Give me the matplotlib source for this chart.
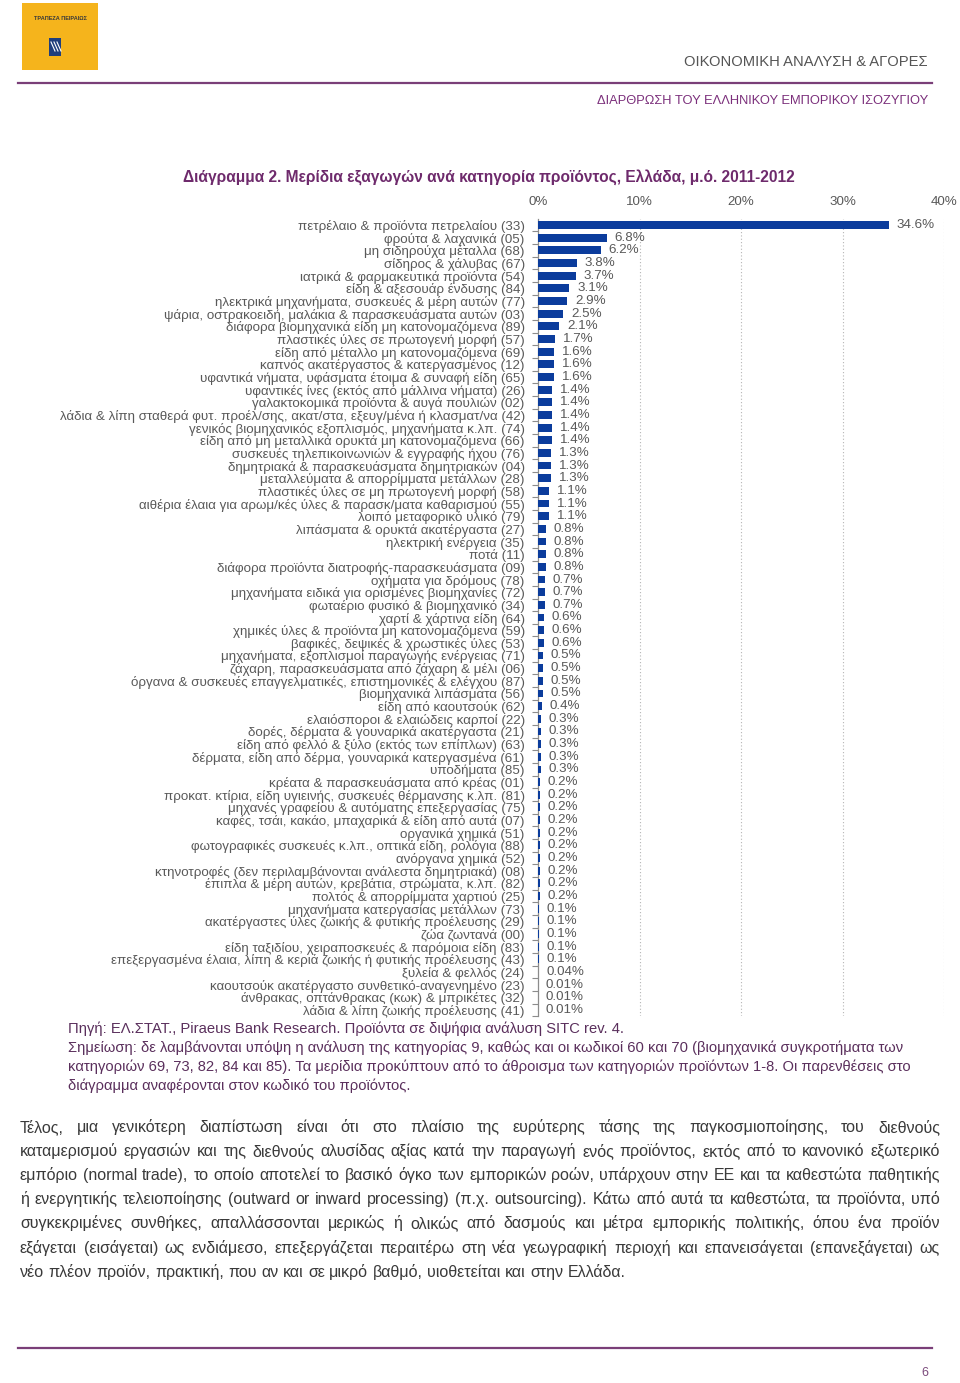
import matplotlib
matplotlib.use('Agg')
import matplotlib.pyplot as plt
from matplotlib import font_manager as fm
from matplotlib.patches import Rectangle
from matplotlib.lines import Line2D

# ---------------- data ----------------
categories = [
    "πετρέλαιο & προϊόντα πετρελαίου (33)",
    "φρούτα & λαχανικά (05)",
    "μη σιδηρούχα μέταλλα (68)",
    "σίδηρος & χάλυβας (67)",
    "ιατρικά & φαρμακευτικά προϊόντα (54)",
    "είδη & αξεσουάρ ένδυσης (84)",
    "ηλεκτρικά μηχανήματα, συσκευές & μέρη αυτών (77)",
    "ψάρια, οστρακοειδή, μαλάκια & παρασκευάσματα αυτών (03)",
    "διάφορα βιομηχανικά είδη μη κατονομαζόμενα (89)",
    "πλαστικές ύλες σε πρωτογενή μορφή (57)",
    "είδη από μέταλλο μη κατονομαζόμενα (69)",
    "καπνός ακατέργαστος & κατεργασμένος (12)",
    "υφαντικά νήματα, υφάσματα έτοιμα & συναφή είδη (65)",
    "υφαντικές ίνες (εκτός από μάλλινα νήματα) (26)",
    "γαλακτοκομικά προϊόντα & αυγά πουλιών (02)",
    "λάδια & λίπη σταθερά φυτ. προέλ/σης, ακατ/στα, εξευγ/μένα ή κλασματ/να (42)",
    "γενικός βιομηχανικός εξοπλισμός, μηχανήματα κ.λπ. (74)",
    "είδη από μη μεταλλικά ορυκτά μη κατονομαζόμενα (66)",
    "συσκευές τηλεπικοινωνιών & εγγραφής ήχου (76)",
    "δημητριακά & παρασκευάσματα δημητριακών (04)",
    "μεταλλεύματα & απορρίμματα μετάλλων (28)",
    "πλαστικές ύλες σε μη πρωτογενή μορφή (58)",
    "αιθέρια έλαια για αρωμ/κές ύλες & παρασκ/ματα καθαρισμού (55)",
    "λοιπό μεταφορικό υλικό (79)",
    "λιπάσματα & ορυκτά ακατέργαστα (27)",
    "ηλεκτρική ενέργεια (35)",
    "ποτά (11)",
    "διάφορα προϊόντα διατροφής-παρασκευάσματα (09)",
    "οχήματα για δρόμους (78)",
    "μηχανήματα ειδικά για ορισμένες βιομηχανίες (72)",
    "φωταέριο φυσικό & βιομηχανικό (34)",
    "χαρτί & χάρτινα είδη (64)",
    "χημικές ύλες & προϊόντα μη κατονομαζόμενα (59)",
    "βαφικές, δεψικές & χρωστικές ύλες (53)",
    "μηχανήματα, εξοπλισμοί παραγωγής ενέργειας (71)",
    "ζάχαρη, παρασκευάσματα από ζάχαρη & μέλι (06)",
    "όργανα & συσκευές επαγγελματικές, επιστημονικές & ελέγχου (87)",
    "βιομηχανικά λιπάσματα (56)",
    "είδη από καουτσούκ (62)",
    "ελαιόσποροι & ελαιώδεις καρποί (22)",
    "δορές, δέρματα & γουναρικά ακατέργαστα (21)",
    "είδη από φελλό & ξύλο (εκτός των επίπλων) (63)",
    "δέρματα, είδη από δέρμα, γουναρικά κατεργασμένα (61)",
    "υποδήματα (85)",
    "κρέατα & παρασκευάσματα από κρέας (01)",
    "προκατ. κτίρια, είδη υγιεινής, συσκευές θέρμανσης κ.λπ. (81)",
    "μηχανές γραφείου & αυτόματης επεξεργασίας (75)",
    "καφές, τσάι, κακάο, μπαχαρικά & είδη από αυτά (07)",
    "οργανικά χημικά (51)",
    "φωτογραφικές συσκευές κ.λπ., οπτικά είδη, ρολόγια (88)",
    "ανόργανα χημικά (52)",
    "κτηνοτροφές (δεν περιλαμβάνονται ανάλεστα δημητριακά) (08)",
    "έπιπλα & μέρη αυτών, κρεβάτια, στρώματα, κ.λπ. (82)",
    "πολτός & απορρίμματα χαρτιού (25)",
    "μηχανήματα κατεργασίας μετάλλων (73)",
    "ακατέργαστες ύλες ζωικής & φυτικής προέλευσης (29)",
    "ζώα ζωντανά (00)",
    "είδη ταξιδίου, χειραποσκευές & παρόμοια είδη (83)",
    "επεξεργασμένα έλαια, λίπη & κεριά ζωικής ή φυτικής προέλευσης (43)",
    "ξυλεία & φελλός (24)",
    "καουτσούκ ακατέργαστο συνθετικό-αναγενημένο (23)",
    "άνθρακας, οπτάνθρακας (κωκ) & μπρικέτες (32)",
    "λάδια & λίπη ζωικής προέλευσης (41)",
]
values = [34.6, 6.8, 6.2, 3.8, 3.7, 3.1, 2.9, 2.5, 2.1, 1.7, 1.6, 1.6, 1.6,
          1.4, 1.4, 1.4, 1.4, 1.4, 1.3, 1.3, 1.3, 1.1, 1.1, 1.1, 0.8, 0.8,
          0.8, 0.8, 0.7, 0.7, 0.7, 0.6, 0.6, 0.6, 0.5, 0.5, 0.5, 0.5, 0.4,
          0.3, 0.3, 0.3, 0.3, 0.3, 0.2, 0.2, 0.2, 0.2, 0.2, 0.2, 0.2, 0.2,
          0.2, 0.2, 0.1, 0.1, 0.1, 0.1, 0.1, 0.04, 0.01, 0.01, 0.01]
xticks = [0, 10, 20, 30, 40]
xtick_labels = ["0%", "10%", "20%", "30%", "40%"]

header_right = "ΟΙΚΟΝΟΜΙΚΗ ΑΝΑΛΥΣΗ & ΑΓΟΡΕΣ"
header_sub = "ΔΙΑΡΘΡΩΣΗ ΤΟΥ ΕΛΛΗΝΙΚΟΥ ΕΜΠΟΡΙΚΟΥ ΙΣΟΖΥΓΙΟΥ"
logo_text = "ΤΡΑΠΕΖΑ ΠΕΙΡΑΙΩΣ"
title = "Διάγραμμα 2. Μερίδια εξαγωγών ανά κατηγορία προϊόντος, Ελλάδα, μ.ό. 2011-2012"
source_lines = [
    "Πηγή: ΕΛ.ΣΤΑΤ., Piraeus Bank Research. Προϊόντα σε διψήφια ανάλυση SITC rev. 4.",
    "Σημείωση: δε λαμβάνονται υπόψη η ανάλυση της κατηγορίας 9, καθώς και οι κωδικοί 60 και 70 (βιομηχανικά συγκροτήματα των",
    "κατηγοριών 69, 73, 82, 84 και 85). Τα μερίδια προκύπτουν από το άθροισμα των κατηγοριών προϊόντων 1-8. Οι παρενθέσεις στο",
    "διάγραμμα αναφέρονται στον κωδικό του προϊόντος.",
]
body_lines = [
    "Τέλος, μια γενικότερη διαπίστωση είναι ότι στο πλαίσιο της ευρύτερης τάσης της παγκοσμιοποίησης, του διεθνούς",
    "καταμερισμού εργασιών και της διεθνούς αλυσίδας αξίας κατά την παραγωγή ενός προϊόντος, εκτός από το κανονικό εξωτερικό",
    "εμπόριο (normal trade), το οποίο αποτελεί το βασικό όγκο των εμπορικών ροών, υπάρχουν στην ΕΕ και τα καθεστώτα παθητικής",
    "ή ενεργητικής τελειοποίησης (outward or inward processing) (π.χ. outsourcing). Κάτω από αυτά τα καθεστώτα, τα προϊόντα, υπό",
    "συγκεκριμένες συνθήκες, απαλλάσσονται μερικώς ή ολικώς από δασμούς και μέτρα εμπορικής πολιτικής, όπου ένα προϊόν",
    "εξάγεται (εισάγεται) ως ενδιάμεσο, επεξεργάζεται περαιτέρω στη νέα γεωγραφική περιοχή και επανεισάγεται (επανεξάγεται) ως",
    "νέο πλέον προϊόν, πρακτική, που αν και σε μικρό βαθμό, υιοθετείται και στην Ελλάδα.",
]
page_number = "6"

# ---------------- setup ----------------
W, H = 960, 1383
fig = plt.figure(figsize=(9.6, 13.83), dpi=100)
fig.patch.set_facecolor('white')
renderer = fig.canvas.get_renderer()

def fx(x):
    return x / W

def fy(y):
    return 1 - y / H

names = {f.name for f in fm.fontManager.ttflist}
SANS = 'Liberation Sans' if 'Liberation Sans' in names else 'DejaVu Sans'
NARROW = 'Liberation Sans Narrow' if 'Liberation Sans Narrow' in names else SANS

def width_px(s, size, family, weight='normal'):
    t = fig.text(0, 0, s, fontsize=size, family=family, weight=weight)
    w = t.get_window_extent(renderer).width
    t.remove()
    return w

def fit_size(s, target, family, weight='normal'):
    return 10.0 * target / width_px(s, 10, family, weight)

PURPLE = '#7A3F78'
TITLE_PURPLE = '#6E2A6C'
NOTE_PURPLE = '#5A2F5C'
GRAY = '#595959'
BAR = '#0B3C9C'

# ---------------- header ----------------
fig.patches.append(Rectangle((fx(22), fy(70)), 76 / W, 67 / H, transform=fig.transFigure,
                             facecolor='#F5B41C', edgecolor='none'))
fig.text(fx(60), fy(19), logo_text, fontsize=4, family=SANS, color='#3a3a3a',
         ha='center', va='center', weight='bold')
fig.patches.append(Rectangle((fx(49), fy(56)), 12 / W, 18 / H, transform=fig.transFigure,
                             facecolor='#1F3E7C', edgecolor='none'))
for k in range(3):
    fig.lines.append(Line2D([fx(51 + 3 * k), fx(55 + 3 * k)], [fy(42), fy(51)],
                            transform=fig.transFigure, color='white', lw=0.8))

s_hr = fit_size(header_right, 242, NARROW)
fig.text(fx(928), fy(62), header_right, fontsize=s_hr, family=NARROW, color='#555555',
         ha='right', va='center')
fig.lines.append(Line2D([fx(18), fx(932)], [fy(83), fy(83)], transform=fig.transFigure,
                        color=PURPLE, lw=1.6))
s_hs = fit_size(header_sub, 333, NARROW)
fig.text(fx(928), fy(101), header_sub, fontsize=s_hs, family=NARROW, color='#7B2F7B',
         ha='right', va='center')

# ---------------- title ----------------
s_t = fit_size(title, 614, NARROW, 'bold')
fig.text(fx(183), fy(178), title, fontsize=s_t, family=NARROW, weight='bold',
         color=TITLE_PURPLE, ha='left', va='center')

# ---------------- chart ----------------
n = len(categories)
row = (1010 - 225) / (n - 1)
top = 225 - row / 2
bot = 1010 + row / 2
ax = fig.add_axes([fx(538), fy(bot), (944 - 538) / W, (bot - top) / H])
lab_size = fit_size(categories[15], 466, SANS)

ypos = list(range(n))
ax.barh(ypos, values, height=0.62, color=BAR, zorder=3)
ax.set_xlim(0, 40)
ax.set_ylim(n - 0.5, -0.5)
ax.xaxis.tick_top()
ax.set_xticks(xticks)
ax.set_xticklabels(xtick_labels, fontsize=lab_size, family=SANS, color=GRAY)
ax.tick_params(axis='x', length=0, pad=8)
for xv in xticks[1:]:
    ax.axvline(xv, color='#b5b5b5', lw=0.8, ls=(0, (1, 2)), zorder=1)
ax.set_yticks(ypos)
ax.set_yticklabels(categories, fontsize=lab_size, family=SANS, color=GRAY)
ax.tick_params(axis='y', which='major', length=0, pad=9.5)
ax.set_yticks([i + 0.5 for i in range(n)], minor=True)
ax.tick_params(axis='y', which='minor', length=4, color='#8c8c8c', width=0.8)
for side in ['top', 'right', 'bottom']:
    ax.spines[side].set_visible(False)
ax.spines['left'].set_color('#8c8c8c')
ax.spines['left'].set_linewidth(0.9)
for i, v in enumerate(values):
    lab = f"{v:.1f}%" if v >= 0.1 else f"{v:.2f}%"
    ax.annotate(lab, (v, i), xytext=(5.5, 0), textcoords='offset points',
                va='center', ha='left', fontsize=lab_size, family=SANS, color=GRAY)

# ---------------- source / note ----------------
s_n = fit_size(source_lines[1], 832, NARROW)
note_px = s_n * 100 / 72
for k, line in enumerate(source_lines):
    fig.text(fx(68), fy(1028 + 19 * k + 0.36 * note_px), line, fontsize=s_n, family=NARROW,
             color=NOTE_PURPLE, ha='left', va='baseline')

# ---------------- body paragraph (justified) ----------------
s_b = fit_size(body_lines[-1], 608, NARROW)
body_px = s_b * 100 / 72
space_w = width_px('a a', s_b, NARROW) - width_px('aa', s_b, NARROW)
body_y = [1126, 1150, 1174, 1198, 1222, 1247, 1271]
for k, line in enumerate(body_lines):
    words = line.split(' ')
    widths = [width_px(w, s_b, NARROW) for w in words]
    last = (k == len(body_lines) - 1)
    if last or len(words) < 2:
        gap = space_w
    else:
        gap = (940 - 20 - sum(widths)) / (len(words) - 1)
    x = 20
    base = body_y[k] + 0.36 * body_px
    for w, wd in zip(words, widths):
        fig.text(fx(x), fy(base), w, fontsize=s_b, family=NARROW, color='#3a3a3a',
                 ha='left', va='baseline')
        x += wd + gap

# ---------------- footer ----------------
fig.lines.append(Line2D([fx(18), fx(932)], [fy(1348), fy(1348)], transform=fig.transFigure,
                        color=PURPLE, lw=1.6))
fig.text(fx(925), fy(1373), page_number, fontsize=9, family=NARROW, color='#7B4A7C',
         ha='center', va='center')

fig.savefig('out.png', dpi=100, facecolor='white')
